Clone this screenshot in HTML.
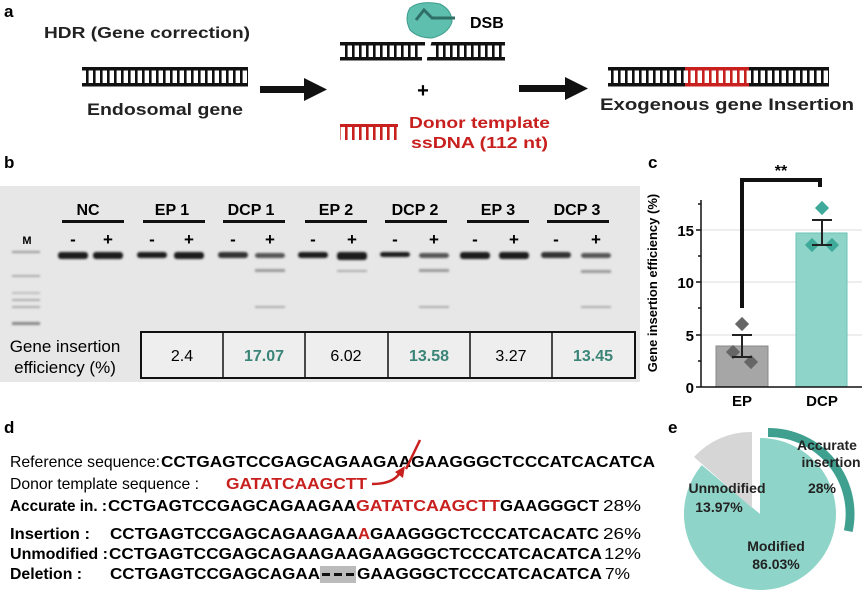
<!DOCTYPE html>
<html><head><meta charset="utf-8"><style>
html,body{margin:0;padding:0;background:#fff}
svg{display:block}
text{font-family:"Liberation Sans",Arial,sans-serif}
.b{font-weight:bold}
</style></head><body>
<svg width="865" height="594" viewBox="0 0 865 594" xmlns="http://www.w3.org/2000/svg">
<defs>
<pattern id="rk" width="7" height="20" patternUnits="userSpaceOnUse"><rect x="2" y="0" width="2.6" height="20" fill="#111"/></pattern>
<pattern id="rr" width="7" height="20" patternUnits="userSpaceOnUse"><rect x="2" y="0" width="2.6" height="20" fill="#c8201e"/></pattern>
<filter id="bl" x="-20%" y="-50%" width="140%" height="200%"><feGaussianBlur stdDeviation="1"/></filter>
</defs>

<!-- Panel a -->
<text x="4" y="17" class="b" font-size="17">a</text>
<text x="44" y="38" font-size="16" font-weight="bold" fill="#222" textLength="206" lengthAdjust="spacingAndGlyphs">HDR (Gene correction)</text>
<rect x="84" y="70" width="164" height="14" fill="url(#rk)"/>
<rect x="82" y="67" width="166" height="3.5" fill="#111"/>
<rect x="82" y="83" width="166" height="3.5" fill="#111"/>
<text x="165" y="115" text-anchor="middle" font-size="17" font-weight="bold" fill="#222" textLength="156" lengthAdjust="spacingAndGlyphs">Endosomal gene</text>
<rect x="260" y="86" width="46" height="7" fill="#111"/>
<polygon points="304,78 327,89.5 304,101" fill="#111"/>
<path d="M410,8 Q420,0 440,4 Q452,10 452,22 Q448,34 432,38 Q418,38 410,30 Q404,18 410,8 Z" fill="#5fbfae" stroke="#3d9c8c" stroke-width="1"/>
<path d="M416,20 L424,10 L432,18 L455,18" fill="none" stroke="#2f6f66" stroke-width="3"/>
<text x="470" y="28" class="b" font-size="16">DSB</text>
<rect x="342" y="45" width="80" height="13" fill="url(#rk)"/>
<rect x="432" y="45" width="72" height="13" fill="url(#rk)"/>
<rect x="340" y="42" width="85" height="3.5" fill="#111"/>
<rect x="340" y="57" width="82" height="3.5" fill="#111"/>
<rect x="430" y="42" width="75" height="3.5" fill="#111"/>
<rect x="427" y="57" width="78" height="3.5" fill="#111"/>
<line x1="430" y1="40" x2="424" y2="62" stroke="#fff" stroke-width="4"/>
<text x="423" y="97" text-anchor="middle" class="b" font-size="20">+</text>
<rect x="519" y="85" width="48" height="7" fill="#111"/>
<polygon points="565,77 588,88.5 565,100" fill="#111"/>
<rect x="340" y="124" width="58" height="3" fill="#c8201e"/>
<rect x="340" y="127" width="58" height="13" fill="url(#rr)"/>
<text x="409" y="128" font-size="16" font-weight="bold" fill="#c8201e" textLength="141" lengthAdjust="spacingAndGlyphs">Donor template</text>
<text x="411" y="148" font-size="16" font-weight="bold" fill="#c8201e" textLength="137" lengthAdjust="spacingAndGlyphs">ssDNA (112 nt)</text>
<rect x="610" y="70" width="219" height="14" fill="url(#rk)"/>
<rect x="686" y="70" width="63" height="14" fill="#fff"/>
<rect x="686" y="70" width="63" height="14" fill="url(#rr)"/>
<rect x="608" y="67" width="221" height="3.5" fill="#111"/>
<rect x="608" y="83" width="221" height="3.5" fill="#111"/>
<rect x="685" y="67" width="64" height="3.5" fill="#c8201e"/>
<rect x="685" y="83" width="64" height="3.5" fill="#c8201e"/>
<text x="600" y="110" font-size="17" font-weight="bold" fill="#222" textLength="254" lengthAdjust="spacingAndGlyphs">Exogenous gene Insertion</text>

<!-- Panel b -->
<text x="4" y="168" class="b" font-size="17">b</text>
<rect x="0" y="186" width="640" height="196" fill="#e7e7e7"/>
<g font-size="16" class="b" text-anchor="middle">
<text x="88" y="215">NC</text><text x="172" y="215">EP 1</text><text x="251" y="215">DCP 1</text>
<text x="336" y="215">EP 2</text><text x="415" y="215">DCP 2</text><text x="498" y="215">EP 3</text><text x="577" y="215">DCP 3</text>
</g>
<g fill="#111">
<rect x="62" y="220" width="62" height="3"/><rect x="143" y="220" width="62" height="3"/><rect x="223" y="220" width="62" height="3"/>
<rect x="305" y="220" width="62" height="3"/><rect x="385" y="220" width="62" height="3"/><rect x="467" y="220" width="62" height="3"/><rect x="547" y="220" width="62" height="3"/>
</g>
<g font-size="17" class="b" text-anchor="middle">
<text x="73" y="245">-</text><text x="108" y="245">+</text><text x="152" y="245">-</text><text x="189" y="245">+</text>
<text x="233" y="245">-</text><text x="270" y="245">+</text><text x="313" y="245">-</text><text x="352" y="245">+</text>
<text x="395" y="245">-</text><text x="434" y="245">+</text><text x="475" y="245">-</text><text x="514" y="245">+</text>
<text x="556" y="245">-</text><text x="596" y="245">+</text>
</g>
<text x="27" y="244" text-anchor="middle" class="b" font-size="11">M</text>
<g fill="#1a1a1a" filter="url(#bl)">
<rect x="58" y="252" width="30" height="7" rx="3"/><rect x="93" y="252" width="30" height="7" rx="3"/>
<rect x="137" y="252" width="30" height="6" rx="3"/><rect x="174" y="252" width="30" height="7" rx="3"/>
<rect x="218" y="252" width="30" height="6" rx="3" fill="#333"/><rect x="255" y="253" width="30" height="5" rx="3" fill="#555"/>
<rect x="298" y="252" width="30" height="6" rx="3"/><rect x="337" y="252" width="30" height="8" rx="3"/>
<rect x="380" y="252" width="30" height="5" rx="3"/><rect x="419" y="253" width="30" height="5" rx="3" fill="#555"/>
<rect x="460" y="252" width="30" height="7" rx="3"/><rect x="499" y="252" width="30" height="7" rx="3"/>
<rect x="541" y="252" width="30" height="6" rx="3" fill="#333"/><rect x="581" y="253" width="30" height="5" rx="3" fill="#555"/>
</g>
<g fill="#aaa" filter="url(#bl)">
<rect x="255" y="269" width="30" height="3" fill="#999"/><rect x="337" y="270" width="30" height="2"/>
<rect x="419" y="269" width="30" height="3" fill="#999"/><rect x="581" y="270" width="30" height="3" fill="#999"/>
<rect x="255" y="306" width="30" height="2"/><rect x="419" y="306" width="30" height="2"/><rect x="581" y="306" width="30" height="2"/>
<rect x="12" y="251" width="28" height="2" fill="#999"/><rect x="12" y="275" width="28" height="2"/>
<rect x="12" y="292" width="28" height="2" fill="#bbb"/><rect x="12" y="299" width="28" height="2"/><rect x="12" y="306" width="28" height="2"/>
<rect x="12" y="322" width="28" height="3" fill="#888"/>
</g>
<text x="65" y="352" text-anchor="middle" font-size="17">Gene insertion</text>
<text x="65" y="373" text-anchor="middle" font-size="17">efficiency (%)</text>
<rect x="141" y="332" width="494" height="46" fill="#eee" stroke="#111" stroke-width="2"/>
<g stroke="#111" stroke-width="1.5">
<line x1="223" y1="332" x2="223" y2="378"/><line x1="305" y1="332" x2="305" y2="378"/><line x1="388" y1="332" x2="388" y2="378"/>
<line x1="470" y1="332" x2="470" y2="378"/><line x1="552" y1="332" x2="552" y2="378"/>
</g>
<g font-size="16" text-anchor="middle">
<text x="182" y="361">2.4</text>
<text x="264" y="361" class="b" fill="#3a8577">17.07</text>
<text x="346" y="361">6.02</text>
<text x="429" y="361" class="b" fill="#3a8577">13.58</text>
<text x="511" y="361">3.27</text>
<text x="593" y="361" class="b" fill="#3a8577">13.45</text>
</g>

<!-- Panel c -->
<text x="648" y="168" class="b" font-size="17">c</text>
<g stroke="#ddd" stroke-width="1">
<line x1="701" y1="335" x2="862" y2="335"/><line x1="701" y1="282" x2="862" y2="282"/><line x1="701" y1="230" x2="862" y2="230"/>
</g>
<rect x="716" y="346" width="52" height="41" fill="#a6a6a6" stroke="#888"/>
<rect x="796" y="233" width="51" height="154" fill="#8fd4c8" stroke="#6cc3b4"/>
<g stroke="#111" stroke-width="1.5">
<line x1="701" y1="200" x2="701" y2="387"/><line x1="701" y1="387" x2="862" y2="387"/>
<line x1="696" y1="387" x2="701" y2="387"/><line x1="696" y1="335" x2="701" y2="335"/><line x1="696" y1="282" x2="701" y2="282"/><line x1="696" y1="230" x2="701" y2="230"/>
<line x1="698" y1="361" x2="701" y2="361"/><line x1="698" y1="308" x2="701" y2="308"/><line x1="698" y1="256" x2="701" y2="256"/><line x1="698" y1="204" x2="701" y2="204"/>
</g>
<g font-size="15" class="b" text-anchor="end">
<text x="694" y="393">0</text><text x="694" y="341">5</text><text x="694" y="288">10</text><text x="694" y="236">15</text>
</g>
<text transform="translate(657,283) rotate(-90)" text-anchor="middle" class="b" font-size="13">Gene insertion efficiency (%)</text>
<g fill="#666">
<rect x="737" y="319" width="10" height="10" transform="rotate(45 742 324)"/>
<rect x="728" y="347" width="10" height="10" transform="rotate(45 733 352)"/>
<rect x="746" y="357" width="10" height="10" transform="rotate(45 751 362)"/>
</g>
<g fill="#3fa99a">
<rect x="817" y="203" width="10" height="10" transform="rotate(45 822 208)"/>
<rect x="807" y="240" width="10" height="10" transform="rotate(45 812 245)"/>
<rect x="827" y="240" width="10" height="10" transform="rotate(45 832 245)"/>
</g>
<g stroke="#222" stroke-width="2">
<line x1="742" y1="335" x2="742" y2="357"/><line x1="732" y1="335" x2="752" y2="335"/><line x1="732" y1="357" x2="752" y2="357"/>
<line x1="822" y1="220" x2="822" y2="245"/><line x1="812" y1="220" x2="832" y2="220"/><line x1="812" y1="245" x2="832" y2="245"/>
</g>
<polyline points="742,308 742,180 820,180 820,187" fill="none" stroke="#111" stroke-width="4"/>
<text x="781" y="176" text-anchor="middle" class="b" font-size="16">**</text>
<text x="742" y="406" text-anchor="middle" class="b" font-size="15">EP</text>
<text x="822" y="406" text-anchor="middle" class="b" font-size="15">DCP</text>

<!-- Panel d -->
<text x="4" y="433" class="b" font-size="17">d</text>
<text x="10" y="467" font-size="16" textLength="150" lengthAdjust="spacingAndGlyphs">Reference sequence:</text>
<text x="161" y="467" font-size="16" class="b" textLength="494" lengthAdjust="spacingAndGlyphs">CCTGAGTCCGAGCAGAAGAAGAAGGGCTCCCATCACATCA</text>
<line x1="420" y1="440" x2="406" y2="469" stroke="#c8201e" stroke-width="2.5"/>
<text x="10" y="489" font-size="16" textLength="189" lengthAdjust="spacingAndGlyphs">Donor template sequence :</text>
<text x="226" y="489" font-size="16" class="b" fill="#c8201e" textLength="141" lengthAdjust="spacingAndGlyphs">GATATCAAGCTT</text>
<path d="M372,484 Q392,484 399,474" fill="none" stroke="#c8201e" stroke-width="2.5"/>
<polygon points="395,472 405,466 403,478" fill="#c8201e"/>
<text x="10" y="511" font-size="16" class="b" textLength="97" lengthAdjust="spacingAndGlyphs">Accurate in. :</text>
<text x="108" y="511" font-size="16" class="b" textLength="248" lengthAdjust="spacingAndGlyphs">CCTGAGTCCGAGCAGAAGAA</text>
<text x="356" y="511" font-size="16" class="b" fill="#c8201e" textLength="144" lengthAdjust="spacingAndGlyphs">GATATCAAGCTT</text>
<text x="500" y="511" font-size="16" class="b" textLength="99" lengthAdjust="spacingAndGlyphs">GAAGGGCT</text>
<text x="603" y="511" font-size="16" textLength="38" lengthAdjust="spacingAndGlyphs">28%</text>
<text x="10" y="539" font-size="16" class="b" textLength="80" lengthAdjust="spacingAndGlyphs">Insertion :</text>
<text x="110" y="539" font-size="16" class="b" textLength="248" lengthAdjust="spacingAndGlyphs">CCTGAGTCCGAGCAGAAGAA</text>
<text x="358" y="539" font-size="16" class="b" fill="#c8201e" textLength="12" lengthAdjust="spacingAndGlyphs">A</text>
<text x="370" y="539" font-size="16" class="b" textLength="229" lengthAdjust="spacingAndGlyphs">GAAGGGCTCCCATCACATC</text>
<text x="603" y="539" font-size="16" textLength="38" lengthAdjust="spacingAndGlyphs">26%</text>
<text x="10" y="559" font-size="16" class="b" textLength="98" lengthAdjust="spacingAndGlyphs">Unmodified :</text>
<text x="109" y="559" font-size="16" class="b" textLength="493" lengthAdjust="spacingAndGlyphs">CCTGAGTCCGAGCAGAAGAAGAAGGGCTCCCATCACATCA</text>
<text x="604" y="559" font-size="16" textLength="37" lengthAdjust="spacingAndGlyphs">12%</text>
<text x="10" y="579" font-size="16" class="b" textLength="72" lengthAdjust="spacingAndGlyphs">Deletion :</text>
<text x="110" y="579" font-size="16" class="b" textLength="210" lengthAdjust="spacingAndGlyphs">CCTGAGTCCGAGCAGAA</text>
<rect x="320" y="566" width="36" height="17" fill="#bbb"/>
<g fill="#111"><rect x="322" y="573" width="8" height="3"/><rect x="334" y="573" width="8" height="3"/><rect x="346" y="573" width="8" height="3"/></g>
<text x="357" y="579" font-size="16" class="b" textLength="245" lengthAdjust="spacingAndGlyphs">GAAGGGCTCCCATCACATCA</text>
<text x="605" y="579" font-size="16" textLength="25" lengthAdjust="spacingAndGlyphs">7%</text>

<!-- Panel e -->
<text x="668" y="433" class="b" font-size="17">e</text>
<path d="M760,514 L760,438 A76,76 0 1 1 701.8,465.1 Z" fill="#8fd4c8"/>
<path d="M752,508 L694,457 A76,76 0 0 1 752,432 Z" fill="#d6d6d6"/>
<path d="M768,428 A86,86 0 0 1 852.6,532 L843.9,530.3 A77,77 0 0 0 768,437 Z" fill="#3fa090"/>
<g class="b" font-size="14" fill="#222" text-anchor="middle">
<text x="827" y="450">Accurate</text>
<text x="831" y="467">insertion</text>
<text x="822" y="493">28%</text>
<text x="727" y="493">Unmodified</text>
<text x="719" y="512">13.97%</text>
<text x="776" y="551">Modified</text>
<text x="776" y="569">86.03%</text>
</g>
</svg>
</body></html>
